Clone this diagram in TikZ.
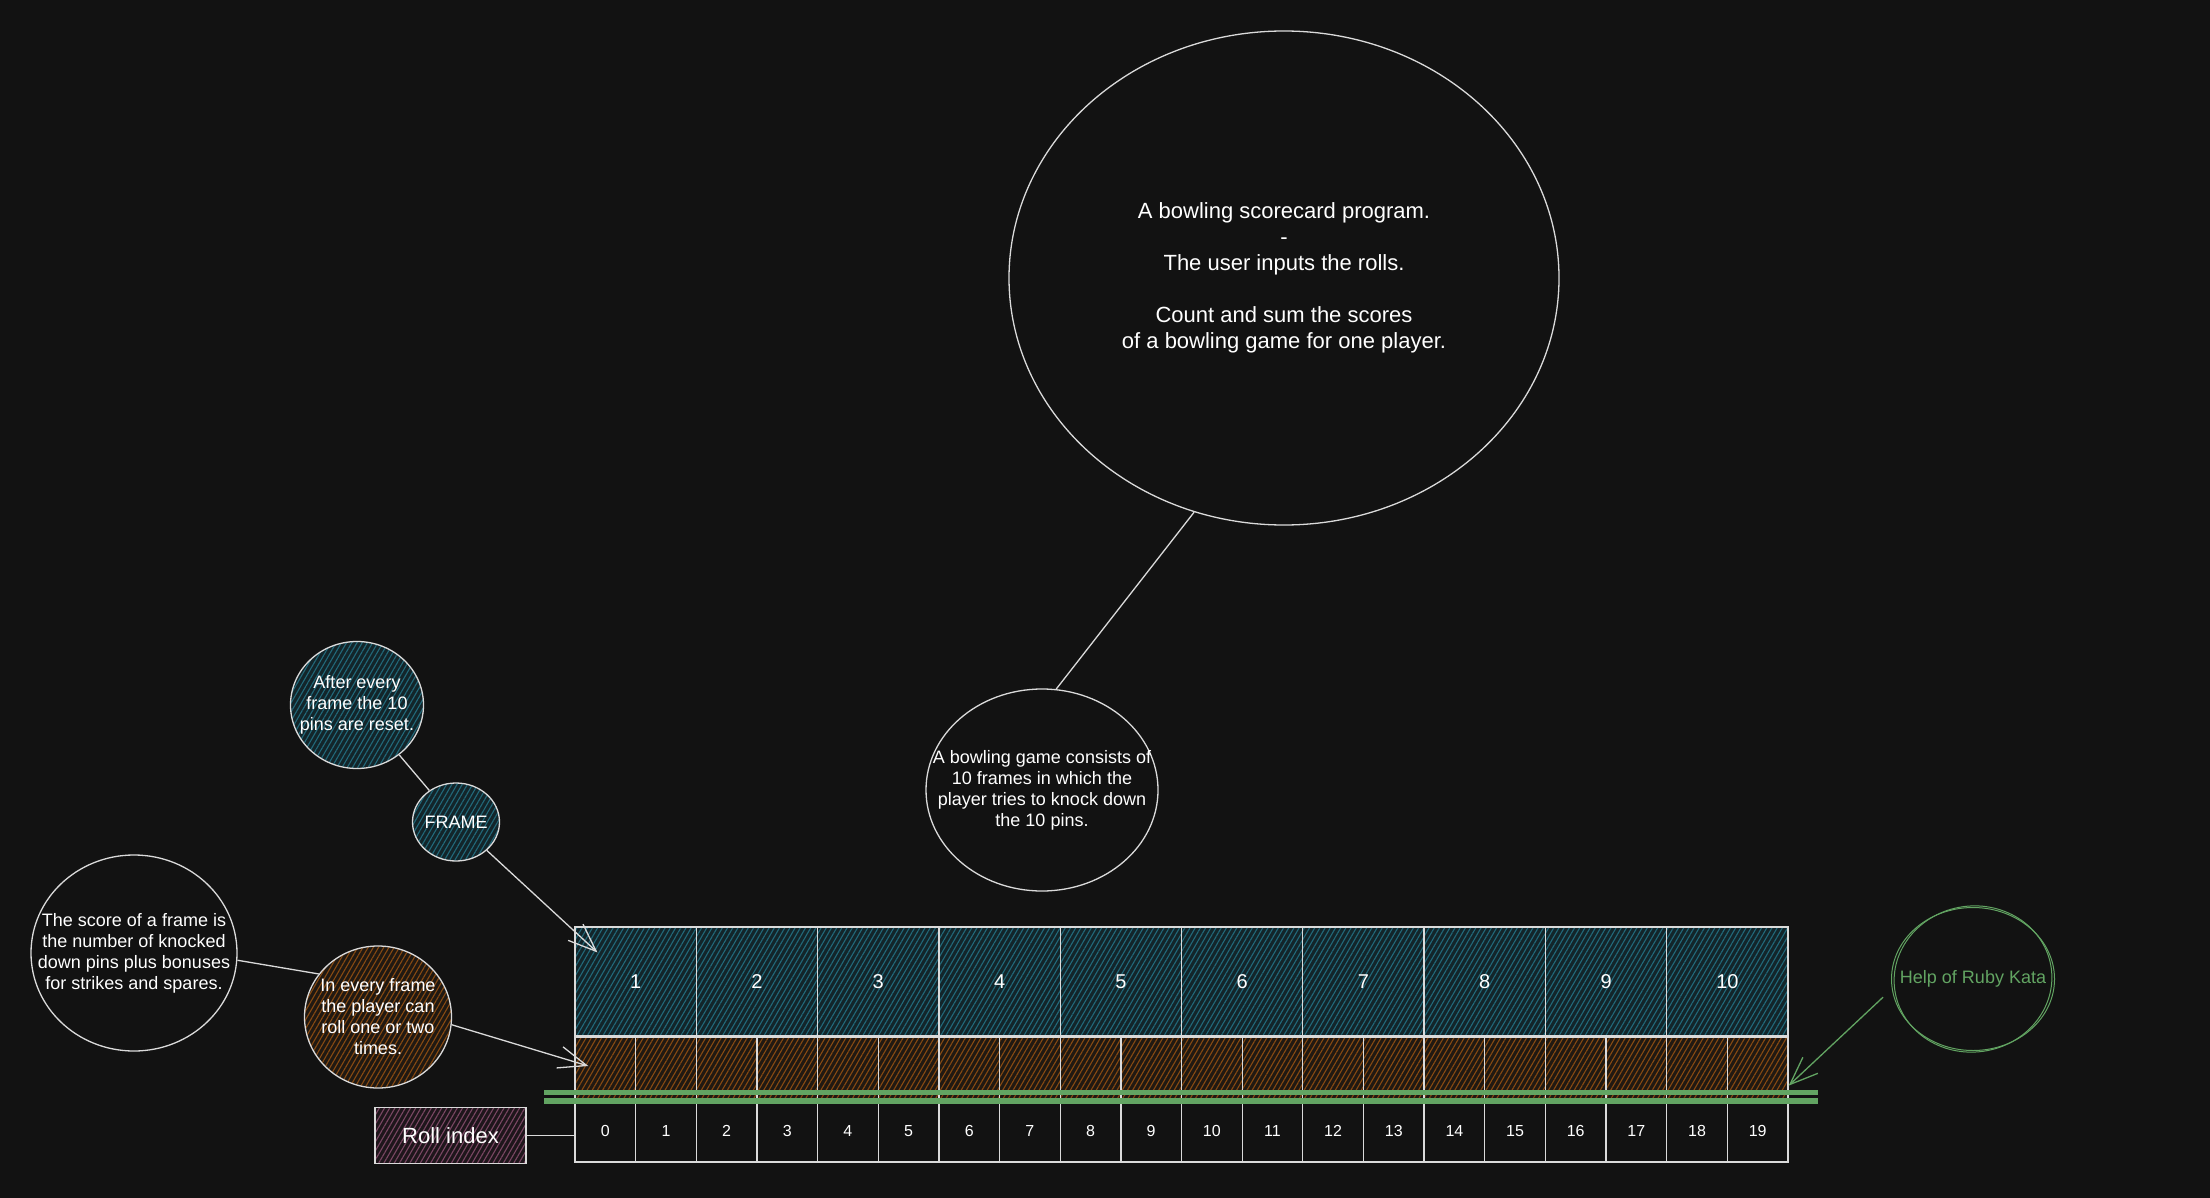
\documentclass[tikz,border=0pt]{standalone}
\usepackage{fontspec}
\setmainfont{Liberation Sans}
\usetikzlibrary{shapes.geometric,patterns.meta,arrows.meta}
\definecolor{bgdark}{HTML}{121212}
\definecolor{inkwhite}{HTML}{DADADA}
\definecolor{hatchteal}{HTML}{22697A}
\definecolor{fillteal}{HTML}{13252A}
\definecolor{hatchbrown}{HTML}{874A12}
\definecolor{fillbrown}{HTML}{201912}
\definecolor{hatchpink}{HTML}{7A4763}
\definecolor{fillpink}{HTML}{1E161B}
\definecolor{katagreen}{HTML}{62A462}
\begin{document}
\begin{tikzpicture}[%
                x=1pt, y=-1pt,
                ink/.style={draw=inkwhite, line width=1.3pt},
                tealhatch/.style={preaction={fill=fillteal}, pattern={Lines[angle=60,distance=4.5pt,line width=1.1pt]}, pattern color=hatchteal},
                brownhatch/.style={preaction={fill=fillbrown}, pattern={Lines[angle=60,distance=4.5pt,line width=1.1pt]}, pattern color=hatchbrown},
                pinkhatch/.style={preaction={fill=fillpink}, pattern={Lines[angle=60,distance=4.5pt,line width=1.1pt]}, pattern color=hatchpink},
                framebox/.style={ink, tealhatch, minimum width=121.3pt, minimum height=109pt, text=white, font=\fontsize{20}{24}\selectfont},
                rollbox/.style={ink, brownhatch, minimum width=60.65pt, minimum height=62pt},
                idxbox/.style={ink, minimum width=60.65pt, minimum height=62pt, text=white, font=\fontsize{16}{19}\selectfont},
                bubble/.style={ink, shape=ellipse, inner sep=0pt},
                every label/.style={text=white, align=center, font=\fontsize{18}{21}\selectfont},
                myarrow/.style={ink, -{Straight Barb[length=28pt,width=22pt]}},
                greenline/.style={draw=katagreen, line width=5.5pt}
        ]
            \fill[bgdark] (0,0) rectangle (2210,1198);

            \foreach \myi in {1,...,10} {
                \node [framebox] (frame\myi) at ({575+(\myi-0.5)*121.3},981.5) {\myi};
            }
            \foreach \myr in {0,...,19} {
                \node [rollbox] (roll\myr) at ({575+(\myr+0.5)*60.65},1068) {};
                \node [idxbox] (idx\myr) at ({575+(\myr+0.5)*60.65},1131) {\myr};
            }
            \draw [greenline] (544,1092.5) -- (1818,1092.5);
            \draw [greenline] (544,1101) -- (1818,1101);

            \node [bubble, minimum width=550pt, minimum height=494pt,
                   label={[font=\fontsize{22}{26}\selectfont]center:{A bowling scorecard program.\\-\\The user inputs the rolls.\\[26pt]Count and sum the scores\\of a bowling game for one player.}}] (prog) at (1284,278) {};
            \node [bubble, minimum width=232pt, minimum height=202pt,
                   label={center:{A bowling game consists of\\10 frames in which the\\player tries to knock down\\the 10 pins.}}] (game) at (1042,790) {};
            \node [bubble, tealhatch, minimum width=133pt, minimum height=127pt,
                   label={center:{After every\\frame the 10\\pins are reset.}}] (reset) at (357,705) {};
            \node [bubble, tealhatch, minimum width=87pt, minimum height=78pt,
                   label={center:{FRAME}}] (frm) at (456,822) {};
            \node [bubble, minimum width=206pt, minimum height=196pt,
                   label={center:{The score of a frame is\\the number of knocked\\down pins plus bonuses\\for strikes and spares.}}] (score) at (134,953) {};
            \node [bubble, brownhatch, minimum width=147pt, minimum height=142pt,
                   label={center:{In every frame\\the player can\\roll one or two\\times.}}] (rolls) at (378,1017) {};
            \node [ink, pinkhatch, minimum width=151pt, minimum height=56pt, text=white,
                   font=\fontsize{22}{26}\selectfont] (rollidx) at (450.5,1135.5) {Roll index};
            \node [bubble, draw=katagreen, line width=1pt, minimum width=163pt, minimum height=143pt,
                   label={[text=katagreen]center:{Help of Ruby Kata}}] (ruby) at (1973,979) {};
            \draw [draw=katagreen, line width=1pt, rotate around={8:(ruby.center)}] (ruby.center) ellipse [x radius=79pt, y radius=73pt];

            \draw [ink] (prog.-111) -- (game.82);
            \draw [ink] (reset) -- (frm);
            \draw [myarrow] (frm) -- ([xshift=23pt,yshift=-26pt]frame1.north west);
            \draw [ink] (score.-4) -- (rolls.144);
            \draw [myarrow] (rolls.-6) -- ([xshift=14pt,yshift=2pt]roll0.west);
            \draw [ink] (rollidx.east) -- (rollidx.east -| idx0.west);
            \draw [myarrow, draw=katagreen, shorten <=12pt] (ruby.-173) -- ([yshift=14pt]roll19.south east);
        \end{tikzpicture}
\end{document}
